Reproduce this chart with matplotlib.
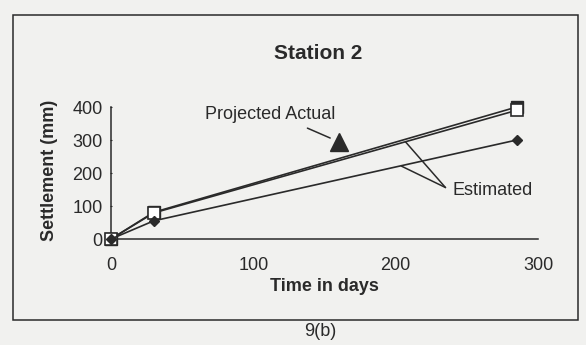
import matplotlib
matplotlib.use("Agg")
from matplotlib import pyplot as plt
from matplotlib.patches import Rectangle

plt.rcParams['font.family'] = ['Liberation Sans', 'DejaVu Sans']

# data
days = [0, 30, 285]
projected_actual = [0, 81, 400]
estimated_upper = [0, 79, 390]
estimated_lower = [0, 55, 300]

x_ticks = [0, 100, 200, 300]
y_ticks = [0, 100, 200, 300, 400]

ink = '#2a2a2a'
paper = '#f1f1ef'

fig = plt.figure(figsize=(5.86, 3.45), dpi=100, facecolor=paper)
ax = fig.add_axes([0.1894, 0.3072, 0.7287, 0.3826])
ax.set_facecolor('none')

# frame around the whole chart
fig.patches.append(Rectangle((0.022, 0.072), 0.964, 0.885, transform=fig.transFigure,
                             fill=False, edgecolor=ink, linewidth=1.1))

ax.plot(days, projected_actual, color=ink, lw=1.2, marker='s', ms=8,
        mfc=ink, mec=ink, clip_on=False, zorder=3)
ax.plot(days, estimated_upper, color=ink, lw=1.2, marker='s', ms=8,
        mfc='white', mec=ink, mew=1.2, clip_on=False, zorder=4)
ax.plot(days, estimated_lower, color=ink, lw=1.2, marker='D', ms=5,
        mfc=ink, mec=ink, clip_on=False, zorder=5)

ax.set_xlim(0, 300)
ax.set_ylim(0, 400)
ax.set_xticks(x_ticks)
ax.set_yticks(y_ticks)
for side in ['top', 'right']:
    ax.spines[side].set_visible(False)
for side in ['left', 'bottom']:
    ax.spines[side].set_color(ink)
    ax.spines[side].set_linewidth(1.1)
ax.tick_params(axis='y', length=2, direction='inout', pad=5, labelsize=13, colors=ink)
ax.tick_params(axis='x', length=0, pad=13, labelsize=13, colors=ink)

ax.set_xlabel('Time in days', fontsize=13, fontweight='bold', color=ink, va='center')
ax.xaxis.set_label_coords(0.50, -0.36)
ax.set_ylabel('Settlement (mm)', fontsize=13, fontweight='bold', color=ink, va='center')
ax.yaxis.set_label_coords(-0.143, 0.52)

fig.text(0.5427, 0.846, 'Station 2', fontsize=15, fontweight='bold', color=ink,
         ha='center', va='center')
fig.text(0.546, 0.04, '9(b)', fontsize=13, color=ink, ha='center', va='center')

# callouts
ax.text(112, 376, 'Projected Actual', fontsize=13, color=ink, ha='center', va='center')
ax.annotate('', xy=(154, 306), xytext=(138, 336),
            arrowprops=dict(arrowstyle='-', color=ink, lw=1.1, shrinkA=0, shrinkB=0))
ax.plot([160], [294], marker='^', ms=13, color=ink, clip_on=False)

ax.text(240, 146, 'Estimated', fontsize=13, color=ink, ha='left', va='center')
for tip in [(207, 294), (204, 221)]:
    ax.annotate('', xy=tip, xytext=(235, 156),
                arrowprops=dict(arrowstyle='-', color=ink, lw=1.1, shrinkA=0, shrinkB=0))

fig.savefig('out.png', dpi=100, facecolor=paper)
